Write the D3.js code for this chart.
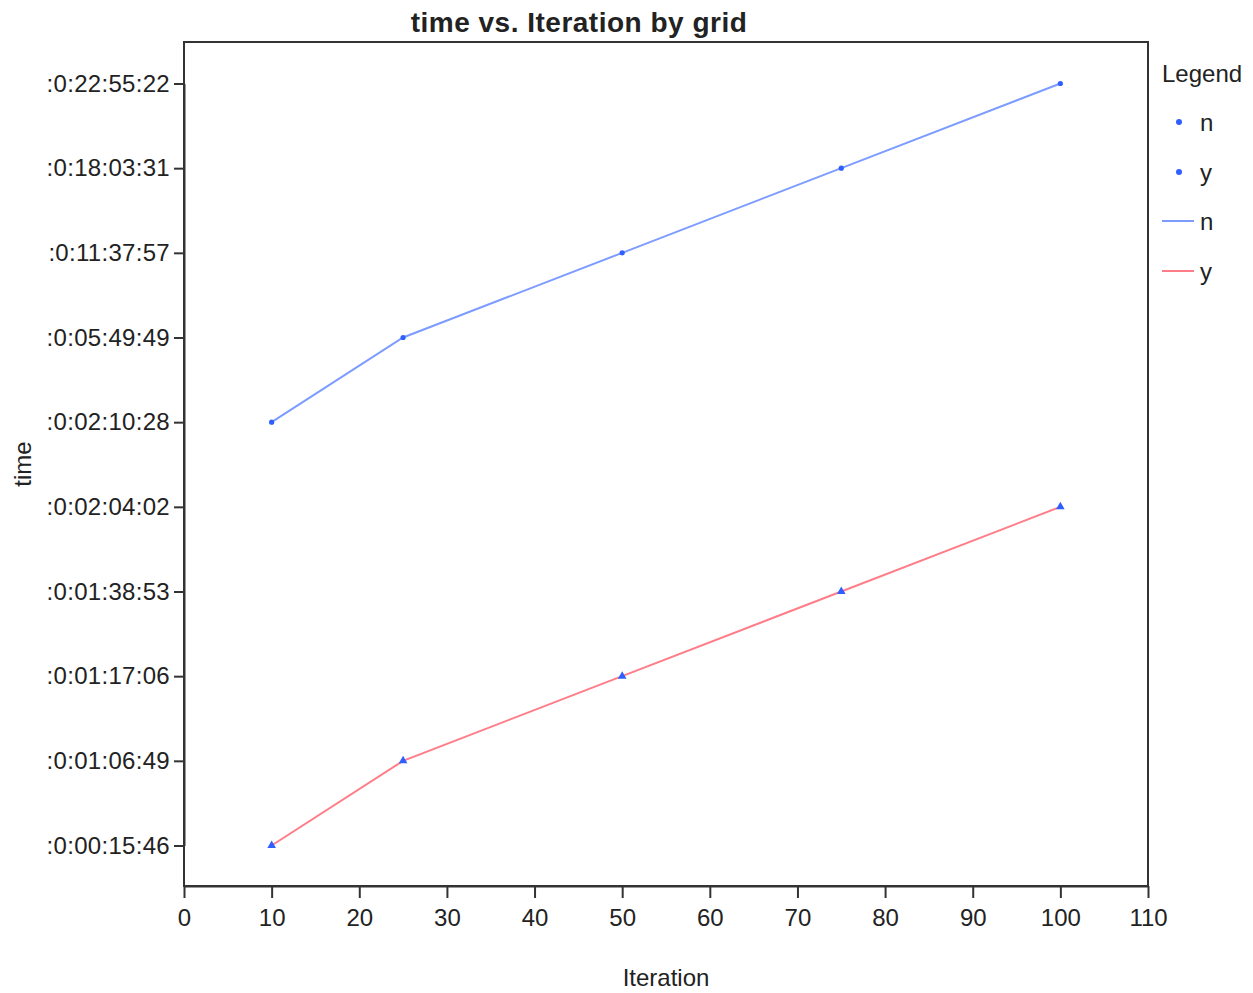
<!DOCTYPE html>
<html>
<head>
<meta charset="utf-8">
<script src="https://cdn.jsdelivr.net/npm/d3@7"></script>
<style>
  html, body { margin: 0; padding: 0; background: #fff; }
  text { font-family: "Liberation Sans", Arial, sans-serif; fill: #222; }
</style>
</head>
<body>
<svg id="chart" width="1253" height="993"></svg>
<script>
// Time categories on the vertical axis, bottom to top
const timeLabels = [
  ":0:00:15:46", ":0:01:06:49", ":0:01:17:06", ":0:01:38:53", ":0:02:04:02",
  ":0:02:10:28", ":0:05:49:49", ":0:11:37:57", ":0:18:03:31", ":0:22:55:22"
];
const iterations = [10, 25, 50, 75, 100];
const timeN = [":0:02:10:28", ":0:05:49:49", ":0:11:37:57", ":0:18:03:31", ":0:22:55:22"];
const timeY = [":0:00:15:46", ":0:01:06:49", ":0:01:17:06", ":0:01:38:53", ":0:02:04:02"];
const xTicks = [0, 10, 20, 30, 40, 50, 60, 70, 80, 90, 100, 110];
const legendLabels = ["n", "y"];

const svg = d3.select("#chart");
const plot = { left: 184, right: 1148, top: 42, bottom: 886 };

const x = d3.scaleLinear().domain([0, 110]).range([plot.left, plot.right]);
const y = d3.scalePoint().domain(timeLabels).range([845.5, 83.5]);

const colors = { lineN: "#7d9cff", lineY: "#ff7d88", marker: "#2f5fff", axis: "#333" };

// Plot frame
svg.append("rect")
  .attr("x", plot.left).attr("y", plot.top)
  .attr("width", plot.right - plot.left).attr("height", plot.bottom - plot.top)
  .attr("fill", "none").attr("stroke", colors.axis).attr("stroke-width", 2);

// Axes
const xAxis = d3.axisBottom(x).tickValues(xTicks).tickSize(12).tickPadding(11).tickSizeOuter(0);
const gx = svg.append("g").attr("transform", `translate(0,${plot.bottom})`).call(xAxis);
const yAxis = d3.axisLeft(y).tickSize(10).tickPadding(4).tickSizeOuter(0);
const gy = svg.append("g").attr("transform", `translate(${plot.left},0)`).call(yAxis);
[gx, gy].forEach(g => {
  g.select(".domain").attr("stroke", colors.axis).attr("stroke-width", 2);
  g.selectAll(".tick line").attr("stroke", colors.axis).attr("stroke-width", 2);
  g.selectAll(".tick text").style("font-family", "Liberation Sans, Arial, sans-serif")
    .style("font-size", "24px").attr("fill", "#222");
});
gy.selectAll(".tick text").style("letter-spacing", "0.3px");

// Series lines
const seriesN = iterations.map((it, i) => ({ it, t: timeN[i] }));
const seriesY = iterations.map((it, i) => ({ it, t: timeY[i] }));
const line = d3.line().x(d => x(d.it)).y(d => y(d.t));

svg.append("path").datum(seriesN).attr("d", line)
  .attr("fill", "none").attr("stroke", colors.lineN).attr("stroke-width", 2);
svg.append("path").datum(seriesY).attr("d", line)
  .attr("fill", "none").attr("stroke", colors.lineY).attr("stroke-width", 2);

// Markers
svg.selectAll(".dotN").data(seriesN).join("circle")
  .attr("cx", d => x(d.it)).attr("cy", d => y(d.t)).attr("r", 2.6)
  .attr("fill", colors.marker);
const tri = d3.symbol().type(d3.symbolTriangle).size(32);
svg.selectAll(".triY").data(seriesY).join("path")
  .attr("d", tri)
  .attr("transform", d => `translate(${x(d.it)},${y(d.t)})`)
  .attr("fill", colors.marker);

// Titles
svg.append("text").attr("x", 579).attr("y", 32).attr("text-anchor", "middle")
  .style("font-size", "28px").style("font-weight", "bold").style("letter-spacing", "0.5px")
  .text("time vs. Iteration by grid");
svg.append("text").attr("x", (plot.left + plot.right) / 2).attr("y", 986)
  .attr("text-anchor", "middle").style("font-size", "24px").text("Iteration");
svg.append("text")
  .attr("transform", `translate(31,${(plot.top + plot.bottom) / 2}) rotate(-90)`)
  .attr("text-anchor", "middle").style("font-size", "24px").text("time");

// Legend
const lg = svg.append("g").attr("transform", "translate(1162,0)");
lg.append("text").attr("x", 0).attr("y", 82).style("font-size", "24px").text("Legend");
legendLabels.forEach((lab, i) => {
  const yy = 122 + i * 50;
  lg.append("circle").attr("cx", 17).attr("cy", yy).attr("r", 3).attr("fill", colors.marker);
  lg.append("text").attr("x", 38).attr("y", yy + 9).style("font-size", "24px").text(lab);
});
legendLabels.forEach((lab, i) => {
  const yy = 221 + i * 50;
  lg.append("line").attr("x1", 0).attr("x2", 32).attr("y1", yy).attr("y2", yy)
    .attr("stroke", i === 0 ? colors.lineN : colors.lineY).attr("stroke-width", 2);
  lg.append("text").attr("x", 38).attr("y", yy + 9).style("font-size", "24px").text(lab);
});
</script>
</body>
</html>
